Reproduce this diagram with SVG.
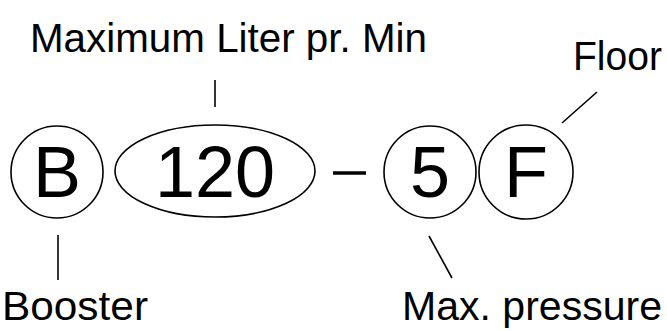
<svg xmlns="http://www.w3.org/2000/svg" width="667" height="331" viewBox="0 0 667 331">
<style>
  .shape { fill: #ffffff; stroke: #000000; stroke-width: 1.6; }
  .conn { stroke: #000000; stroke-width: 1.6; fill: none; }
  .big { font-family: "Liberation Sans", Arial, sans-serif; font-size: 72px; fill: #000000; text-anchor: middle; }
  .label { font-family: "Liberation Sans", Arial, sans-serif; font-size: 41px; fill: #000000; }
</style>
<rect x="0" y="0" width="667" height="331" fill="#ffffff"/>
<g id="connectors">
  <line class="conn" x1="215" y1="80" x2="215" y2="107"/>
  <line class="conn" x1="562" y1="123" x2="597" y2="92"/>
  <line class="conn" x1="58" y1="235" x2="58" y2="280"/>
  <line class="conn" x1="429" y1="236" x2="452" y2="278"/>
</g>
<g id="node-B">
  <circle class="shape" cx="57" cy="172" r="46"/>
  <text class="big" x="57" y="197">B</text>
</g>
<g id="node-120">
  <ellipse class="shape" cx="215" cy="171" rx="100" ry="46"/>
  <text class="big" x="215" y="197">120</text>
</g>
<g id="node-dash">
  <line x1="333" y1="173" x2="366" y2="173" stroke="#000000" stroke-width="3.5"/>
</g>
<g id="node-5">
  <circle class="shape" cx="430" cy="172" r="46"/>
  <text class="big" x="430" y="197">5</text>
</g>
<g id="node-F">
  <circle class="shape" cx="526" cy="172" r="47"/>
  <text class="big" x="526" y="197">F</text>
</g>
<g id="label-max-liter">
  <text class="label" x="30" y="52" textLength="397" lengthAdjust="spacingAndGlyphs">Maximum Liter pr. Min</text>
</g>
<g id="label-floor">
  <text class="label" x="573" y="70" textLength="89" lengthAdjust="spacingAndGlyphs">Floor</text>
</g>
<g id="label-booster">
  <text class="label" x="2" y="320" textLength="146" lengthAdjust="spacingAndGlyphs">Booster</text>
</g>
<g id="label-max-pressure">
  <text class="label" x="402" y="320" textLength="260" lengthAdjust="spacingAndGlyphs">Max. pressure</text>
</g>
</svg>
